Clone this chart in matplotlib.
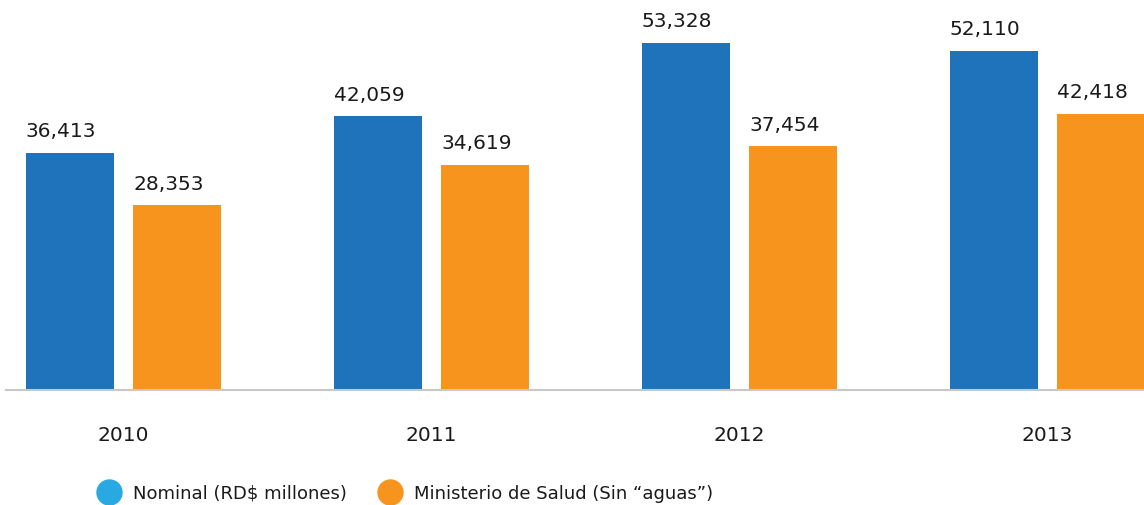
import matplotlib
matplotlib.use("Agg")
import matplotlib.pyplot as plt
from matplotlib.lines import Line2D
import numpy as np

years = ["2010", "2011", "2012", "2013"]
nominal = [36413, 42059, 53328, 52110]
ministerio = [28353, 34619, 37454, 42418]
series_names = ["Nominal (RD$ millones)", "Ministerio de Salud (Sin \u201caguas\u201d)"]

BLUE = "#1f73bb"
ORANGE = "#f7941d"
LEGEND_BLUE = "#29a9e1"

plt.rcParams["font.family"] = ["DejaVu Sans"]

fig = plt.figure(figsize=(11.44, 5.06), dpi=100)
ax = fig.add_axes([0, 115 / 506, 1, 391 / 506])

x = np.arange(len(years))
w = 0.286
off = 0.174
ax.bar(x - off, nominal, width=w, color=BLUE)
ax.bar(x + off, ministerio, width=w, color=ORANGE)

# value labels start at the left edge of each bar
for xi, v in zip(x - off - w / 2, nominal):
    ax.annotate(f"{v:,}", (xi, v), xytext=(0, 9), textcoords="offset points",
                ha="left", va="bottom", fontsize=14.5, color="#1a1a1a")
for xi, v in zip(x + off - w / 2, ministerio):
    ax.annotate(f"{v:,}", (xi, v), xytext=(0, 9), textcoords="offset points",
                ha="left", va="bottom", fontsize=14.5, color="#1a1a1a")

ax.set_xlim(-0.401, 3.313)
ax.set_ylim(0, 60070)
ax.set_yticks([])
ax.set_xticks(x)
ax.set_xticklabels(years, fontsize=14.5, color="#1a1a1a")
ax.tick_params(axis="x", length=0, pad=25)
for s in ["top", "right", "left"]:
    ax.spines[s].set_visible(False)
ax.spines["bottom"].set_color("#c8c8c8")
ax.spines["bottom"].set_linewidth(1.5)
ax.spines["bottom"].set_bounds(-0.382, 3.313)
ax.patch.set_alpha(0)

handles = [
    Line2D([], [], marker="o", linestyle="", markersize=18, color=LEGEND_BLUE),
    Line2D([], [], marker="o", linestyle="", markersize=18, color=ORANGE),
]
fig.legend(handles, series_names, loc="center left", bbox_to_anchor=(0.0716, 0.024),
           ncol=2, frameon=False, fontsize=13, handletextpad=0.73, columnspacing=1.8,
           handlelength=1.2, labelcolor="#1a1a1a")

fig.savefig("out.png", dpi=100)
